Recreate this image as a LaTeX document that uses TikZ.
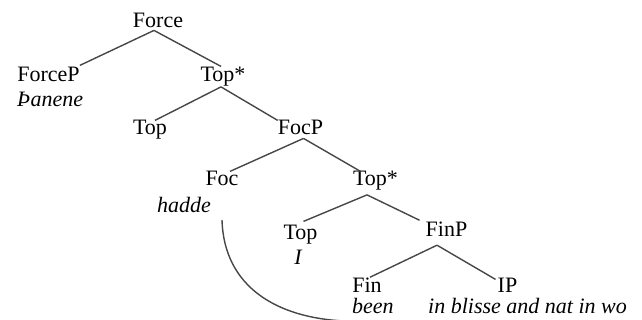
\documentclass[tikz,border=0pt]{standalone}
\usepackage{fontspec}
\setmainfont{Liberation Serif}
\begin{document}
\begin{tikzpicture}[x=1pt,y=-1pt,
  lab/.style={inner sep=0pt, anchor=base, font=\fontsize{22}{26}\selectfont},
  it/.style={lab, font=\fontsize{22}{26}\selectfont\itshape},
  edge/.style={draw=black!72, line width=1.4pt}]
\useasboundingbox (0,0) rectangle (642,320);
\node[lab] (force) at (158,28) {Force};
\node[lab] (forcep) at (48.5,82) {ForceP};
\node[it, anchor=base west] (thanene) at (17,107) {Þanene};
\node[lab] (topA) at (223,82) {Top*};
\node[lab] (topB) at (150,135) {Top};
\node[lab] (focp) at (300.5,135) {FocP};
\node[lab] (foc) at (222,186) {Foc};
\node[it] (hadde) at (184,213) {hadde};
\node[lab] (topC) at (375.5,186) {Top*};
\node[lab] (topD) at (300.5,240) {Top};
\node[it] (iword) at (298,265) {I};
\node[lab] (finp) at (446.5,237) {FinP};
\node[lab] (fin) at (367,292) {Fin};
\node[lab] (ip) at (507.5,292) {IP};
\node[it, anchor=base west] (been) at (352,313) {been};
\node[it, anchor=base west] (blisse) at (428,313) {in blisse and nat in wo};
% edges
\draw[edge] ([xshift=-4pt,yshift=-2pt]force.south) -- ([yshift=2pt]forcep.north east);
\draw[edge] ([xshift=-4pt,yshift=-2pt]force.south) -- ([xshift=-2pt,yshift=1pt]topA.north);
\draw[edge] ([xshift=-2pt]topA.south) -- ([xshift=5pt]topB.north);
\draw[edge] ([xshift=-2pt]topA.south) -- (focp.north west);
\draw[edge] ([xshift=3pt,yshift=-3pt]focp.south) -- ([xshift=8pt]foc.north);
\draw[edge] ([xshift=3pt,yshift=-3pt]focp.south) -- ([xshift=-15pt]topC.north);
\draw[edge] ([xshift=-8.5pt,yshift=-4pt]topC.south) -- ([xshift=3pt,yshift=4pt]topD.north);
\draw[edge] ([xshift=-8.5pt,yshift=-4pt]topC.south) -- ([xshift=-6pt,yshift=2pt]finp.north west);
\draw[edge] ([xshift=-9.5pt,yshift=-8pt]finp.south) -- ([xshift=3pt]fin.north);
\draw[edge] ([xshift=-9.5pt,yshift=-8pt]finp.south) -- ([xshift=-2pt,yshift=-2pt]ip.north west);
% movement curve
\coordinate (cs) at (222,220);
\coordinate (ce) at (345,321);
\draw[edge] (cs) .. controls (224,287) and (277,318) .. (ce);
\end{tikzpicture}
\end{document}
